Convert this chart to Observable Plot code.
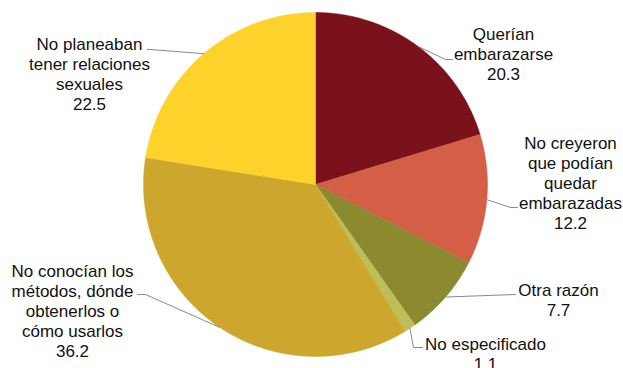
<!DOCTYPE html>
<html><head><meta charset="utf-8">
<script src="https://cdn.jsdelivr.net/npm/d3@7"></script>
<script src="https://cdn.jsdelivr.net/npm/@observablehq/plot@0.6"></script>
<style>body{margin:0;background:#fff;} svg{display:block;}</style>
</head><body><div id="chart"></div>
<script>
// ---- data ----
const categories = ["Querían embarazarse", "No creyeron que podían quedar embarazadas", "Otra razón", "No especificado", "No conocían los métodos, dónde obtenerlos o cómo usarlos", "No planeaban tener relaciones sexuales"];
const values = [20.3, 12.2, 7.7, 1.1, 36.2, 22.5];
const labelText = ["Querían\nembarazarse", "No creyeron\nque podían\nquedar\nembarazadas", "Otra razón", "No especificado", "No conocían los\nmétodos, dónde\nobtenerlos o\ncómo usarlos", "No planeaban\ntener relaciones\nsexuales"];
const colors = ["#7B111A", "#D55F46", "#8C8A31", "#BDBE5A", "#CDA72D", "#FDD22B"];

// ---- layout (pixels) ----
const W = 623, H = 368, cx = 315, cy = 184, R = 172;
const labelLayout = [
  {tx: 503, ty: 53,  path: [[445, 59], [452, 59]]},
  {tx: 570, ty: 182, path: [[510, 207], [517, 207]]},
  {tx: 558, ty: 299, path: [[515, 294]]},
  {tx: 485, ty: 353, path: [[413, 347], [422, 347]]},
  {tx: 72,  ty: 310, path: [[145, 294], [137, 294]]},
  {tx: 89,  ty: 73,  path: [[150, 49], [147, 49]]}
];

const arcs = d3.pie().sort(null).value(d => d)(values);
const pt = (a, r) => [cx + r * Math.sin(a), cy - r * Math.cos(a)];

const slicePts = [];
arcs.forEach((a, i) => {
  const cat = categories[i];
  slicePts.push({cat, x: cx, y: cy});
  const n = Math.max(2, Math.ceil((a.endAngle - a.startAngle) / 0.005));
  for (let k = 0; k <= n; k++) {
    const [x, y] = pt(a.startAngle + (a.endAngle - a.startAngle) * k / n, R);
    slicePts.push({cat, x, y});
  }
  slicePts.push({cat, x: cx, y: cy});
});

const leaderPts = [];
const labels = [];
arcs.forEach((a, i) => {
  const cat = categories[i];
  const mid = (a.startAngle + a.endAngle) / 2;
  const [sx, sy] = pt(mid, R);
  leaderPts.push({cat, x: sx, y: sy});
  labelLayout[i].path.forEach(([x, y]) => leaderPts.push({cat, x, y}));
  labels.push({x: labelLayout[i].tx, y: labelLayout[i].ty, text: labelText[i] + "\n" + values[i].toFixed(1)});
});

const chart = Plot.plot({
  width: W, height: H, margin: 0,
  x: {domain: [0, W], range: [0, W], axis: null},
  y: {domain: [0, H], range: [0, H], axis: null},
  color: {domain: categories, range: colors},
  style: {fontFamily: "'Liberation Sans', Arial, sans-serif", background: "#fff"},
  marks: [
    Plot.line(slicePts, {x: "x", y: "y", z: "cat", fill: "cat", stroke: "cat", strokeWidth: 0.5, curve: "linear"}),
    Plot.line(leaderPts, {x: "x", y: "y", z: "cat", stroke: "#8a8a8a", strokeWidth: 1}),
    Plot.text(labels, {x: "x", y: "y", text: "text", fontSize: 17, lineHeight: 1.18, fill: "#111", textAnchor: "middle"})
  ]
});
document.getElementById("chart").appendChild(chart);
</script>
</body></html>
